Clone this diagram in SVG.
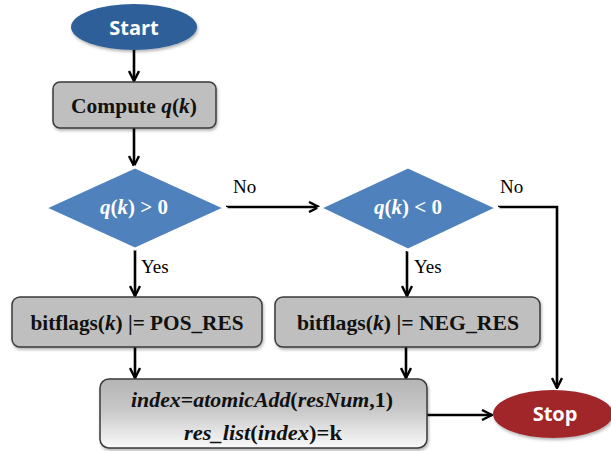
<svg xmlns="http://www.w3.org/2000/svg" width="611" height="451" viewBox="0 0 611 451">
<style>
.box{fill:#BFBFBF;stroke:#3A3A3A;stroke-width:1.5}
.dia{fill:#4F81BD;stroke:#FFFFFF;stroke-width:3}
.t{font-family:"Liberation Serif","Times New Roman",serif;font-weight:bold;font-size:21px;fill:#111;text-anchor:middle}
.tw{font-family:"Liberation Serif","Times New Roman",serif;font-weight:bold;font-size:21px;fill:#FFFFFF;text-anchor:middle}
.lbl{font-family:"Liberation Serif","Times New Roman",serif;font-size:19px;fill:#000}
.term{font-family:"Open Sans","Liberation Sans",sans-serif;font-weight:bold;font-size:20px;fill:#FFFFFF;text-anchor:middle}
.i{font-style:italic}
.c{fill:none;stroke:#000;stroke-width:2.6}
</style>
<defs>
<marker id="arr" viewBox="0 0 12 12" refX="11" refY="6" markerWidth="12" markerHeight="12" markerUnits="userSpaceOnUse" orient="auto">
<path d="M1,1 L11,6 L1,11" fill="none" stroke="#000" stroke-width="2.4"/>
</marker>
<linearGradient id="g3" x1="0" y1="0" x2="0" y2="1">
<stop offset="0" stop-color="#B5B5B5"/>
<stop offset="0.45" stop-color="#C8C8C8"/>
<stop offset="1" stop-color="#FAFAFA"/>
</linearGradient>
<filter id="sh" x="-10%" y="-10%" width="130%" height="140%">
<feDropShadow dx="1" dy="2" stdDeviation="1.5" flood-color="#000" flood-opacity="0.3"/>
</filter>
</defs>

<g id="connectors">
<path class="c" d="M134,50 V81" marker-end="url(#arr)"/>
<path class="c" d="M134,128 V166" marker-end="url(#arr)"/>
<path class="c" d="M226,207 H319" marker-end="url(#arr)"/>
<path class="c" d="M498,207 H557 V388" marker-end="url(#arr)"/>
<path class="c" d="M135,250 V296" marker-end="url(#arr)"/>
<path class="c" d="M407,251 V296" marker-end="url(#arr)"/>
<path class="c" d="M135,347 V378" marker-end="url(#arr)"/>
<path class="c" d="M406,347 V378" marker-end="url(#arr)"/>
<path class="c" d="M427,415 H492" marker-end="url(#arr)"/>
<text class="lbl" x="233" y="193">No</text>
<text class="lbl" x="500" y="193">No</text>
<text class="lbl" x="141" y="273">Yes</text>
<text class="lbl" x="414" y="273">Yes</text>
</g>

<g id="start">
<ellipse cx="134" cy="27" rx="63" ry="23" fill="#2F5F98" filter="url(#sh)"/>
<text class="term" x="134" y="35">Start</text>
</g>

<g id="compute">
<rect class="box" x="53" y="82" width="163" height="46" rx="7" filter="url(#sh)"/>
<text class="t" x="134" y="113" textLength="126" lengthAdjust="spacingAndGlyphs">Compute <tspan class="i">q</tspan>(<tspan class="i">k</tspan>)</text>
</g>

<g id="dec1">
<polygon class="dia" points="135,167 225,208 135,249 45,208"/>
<text class="tw" x="134" y="214"><tspan class="i">q</tspan>(<tspan class="i">k</tspan>) &gt; 0</text>
</g>

<g id="dec2">
<polygon class="dia" points="408,167 497,208 408,250 320,208"/>
<text class="tw" x="408" y="214"><tspan class="i">q</tspan>(<tspan class="i">k</tspan>) &lt; 0</text>
</g>

<g id="pos">
<rect class="box" x="12" y="297" width="250" height="50" rx="8" filter="url(#sh)"/>
<text class="t" x="137" y="330" textLength="213" lengthAdjust="spacingAndGlyphs">bitflags(<tspan class="i">k</tspan>) |= POS_RES</text>
</g>

<g id="neg">
<rect class="box" x="275" y="297" width="265" height="50" rx="8" filter="url(#sh)"/>
<text class="t" x="408" y="330" textLength="222" lengthAdjust="spacingAndGlyphs">bitflags(<tspan class="i">k</tspan>) |= NEG_RES</text>
</g>

<g id="record">
<rect x="100" y="379" width="327" height="69" rx="9" fill="url(#g3)" stroke="#3A3A3A" stroke-width="1.5" filter="url(#sh)"/>
<text class="t" x="262" y="407" textLength="262" lengthAdjust="spacingAndGlyphs"><tspan class="i">index</tspan>=<tspan class="i">atomicAdd</tspan>(<tspan class="i">resNum</tspan>,1)</text>
<text class="t" x="263" y="440" textLength="158" lengthAdjust="spacingAndGlyphs"><tspan class="i">res_list</tspan>(<tspan class="i">index</tspan>)=k</text>
</g>

<g id="stop">
<ellipse cx="553" cy="414" rx="60" ry="24" fill="#A0282B" filter="url(#sh)"/>
<text class="term" x="555" y="421">Stop</text>
</g>
</svg>
